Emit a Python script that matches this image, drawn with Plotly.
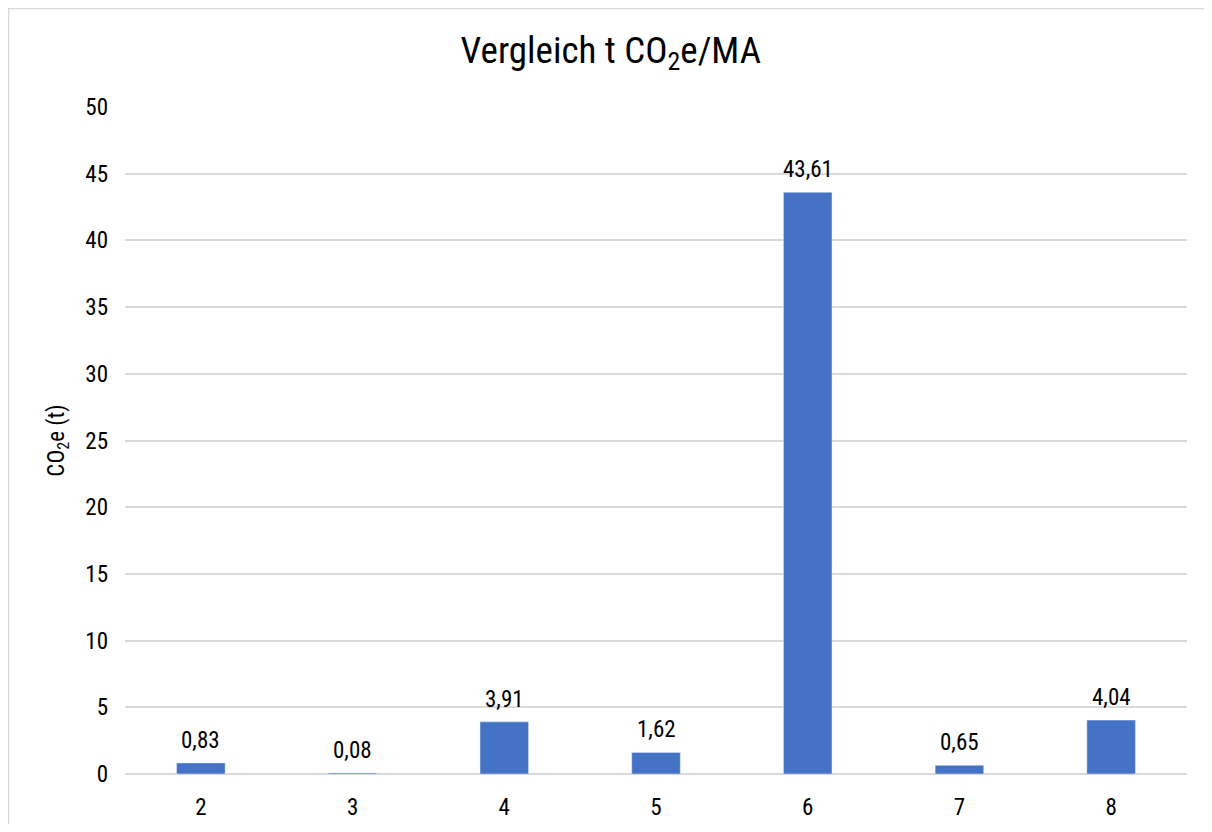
import plotly.graph_objects as go

categories = ["2", "3", "4", "5", "6", "7", "8"]
values = [0.83, 0.08, 3.91, 1.62, 43.61, 0.65, 4.04]
labels = ["0,83", "0,08", "3,91", "1,62", "43,61", "0,65", "4,04"]

FONT = "Liberation Sans Narrow, Roboto Condensed, Arial Narrow, Roboto, sans-serif"

W, H = 1196, 816
L, R, T, B = 117, 17, 99, 50

fig = go.Figure(go.Bar(
    x=categories, y=values,
    marker=dict(color="#4472C4"),
))

for i, (v, t) in enumerate(zip(values, labels)):
    fig.add_annotation(x=i, y=v, text=t, showarrow=False, yanchor="bottom", yshift=7,
                       font=dict(size=23, color="#000000", family=FONT))

pw = W - L - R
ph = H - T - B
fig.add_shape(type="rect", xref="paper", yref="paper",
              x0=(0.5 - L) / pw, x1=(W + 20 - L) / pw,
              y0=-(B + 20) / ph, y1=1 + (T - 0.5) / ph,
              line=dict(color="#d9d9d9", width=1.5), fillcolor="rgba(0,0,0,0)", layer="below")

fig.update_layout(
    width=W, height=H, autosize=False,
    margin=dict(l=L, r=R, t=T, b=B),
    paper_bgcolor="white", plot_bgcolor="white",
    font=dict(family=FONT, size=23, color="#000000"),
    title=dict(text="Vergleich t CO<sub>2</sub>e/MA", x=0.504, xanchor="center", y=0.949, yanchor="middle",
               font=dict(size=37, family=FONT, color="#000000")),
    bargap=0.68,
    showlegend=False,
    xaxis=dict(type="category", range=[-0.5, 6.5], showgrid=False, showline=False, ticks="",
               tickfont=dict(size=23), ticklabelstandoff=17, automargin=False),
    yaxis=dict(range=[0, 50], dtick=5, showgrid=True, gridcolor="#d9d9d9", gridwidth=1.5,
               zeroline=True, zerolinecolor="#d9d9d9", zerolinewidth=1.5, showline=False,
               tickfont=dict(size=23), ticks="", ticklen=0, ticklabelstandoff=16, automargin=False,
               title=dict(text="CO<sub>2</sub>e (t)", font=dict(size=23), standoff=14)),
)

fig.write_html("out.html")
